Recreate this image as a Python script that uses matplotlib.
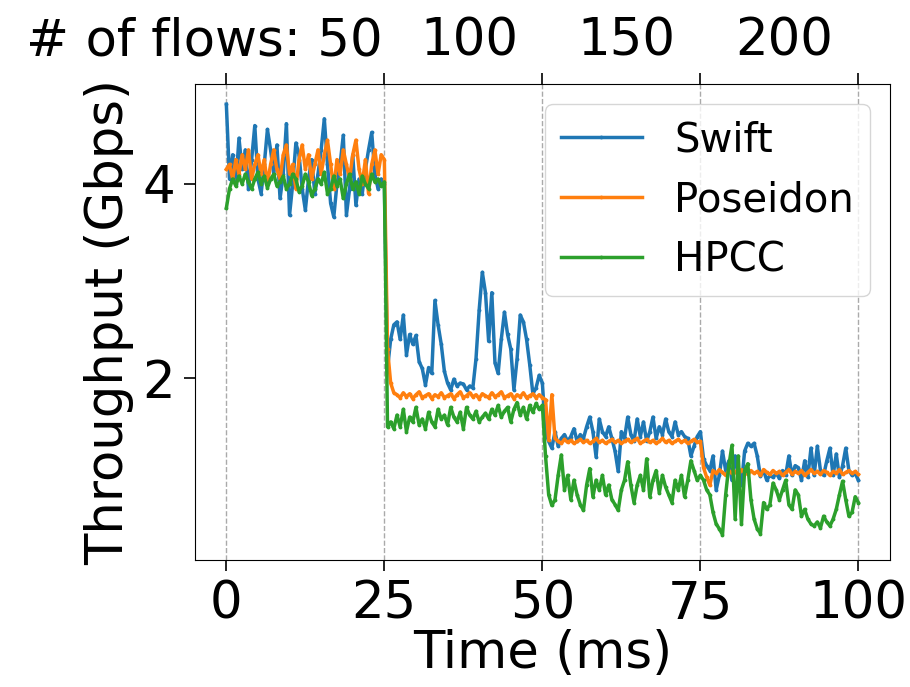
import numpy as np
import matplotlib.pyplot as plt

# time axis: one sample every 0.5 ms
t = np.arange(0, 100.5, 0.5)

# Swift throughput (Gbps), one list per 25 ms phase
swift_1 = [4.82, 4.05, 4.30, 4.00, 4.47, 4.15, 4.35, 3.95, 4.25, 4.60,
           4.05, 3.90, 4.20, 4.56, 4.35, 4.10, 4.40, 3.85, 4.10, 4.62,
           3.68, 4.00, 4.42, 4.30, 3.95, 3.73, 4.05, 4.25, 3.90, 4.10,
           4.35, 4.67, 4.20, 3.80, 3.66, 4.00, 4.20, 4.50, 3.68, 3.95,
           4.30, 3.78, 4.05, 3.90, 4.15, 4.35, 4.53, 4.10, 3.95, 4.05,
           4.00]
swift_2 = [2.10, 2.40, 2.55, 2.58, 2.40, 2.65, 2.24, 2.45, 2.35, 2.44,
           2.17, 2.10, 1.93, 2.11, 2.05, 2.80, 2.55, 2.35, 2.07, 1.95,
           1.88, 1.99, 1.92, 1.95, 1.94, 1.88, 1.92, 1.90, 2.20, 2.70,
           3.09, 2.88, 2.38, 2.88, 2.16, 2.05, 2.40, 2.68, 2.45, 2.30,
           1.88, 2.20, 2.65, 2.58, 2.40, 2.14, 1.84, 1.90, 2.03, 1.95]
swift_3 = [1.45, 1.35, 1.28, 1.45, 1.30, 1.38, 1.42, 1.35, 1.40, 1.48,
           1.35, 1.42, 1.38, 1.50, 1.60, 1.45, 1.19, 1.58, 1.45, 1.40,
           1.50, 1.38, 1.25, 1.04, 1.45, 1.38, 1.60, 1.42, 1.35, 1.58,
           1.40, 1.55, 1.35, 1.45, 1.60, 1.38, 1.50, 1.42, 1.58, 1.45,
           1.40, 1.55, 1.42, 1.45, 1.40, 1.38, 1.20, 1.30, 1.40, 1.45]
swift_4 = [1.17, 1.10, 1.05, 1.20, 0.85, 1.00, 1.25, 1.05, 1.15, 0.95,
           1.20, 1.00, 0.90, 1.25, 1.33, 1.30, 1.33, 1.20, 0.99, 1.05,
           0.95, 1.00, 0.98, 1.02, 0.97, 1.05, 1.00, 1.20, 1.00, 1.10,
           1.08, 0.95, 1.15, 0.98, 1.28, 1.00, 1.30, 1.05, 1.00, 1.15,
           1.28, 1.00, 1.22, 0.98, 1.10, 1.28, 1.05, 1.00, 1.02, 0.95]

# Poseidon
poseidon_1 = [4.15, 4.20, 4.05, 4.25, 4.10, 4.30, 4.15, 4.35, 4.05, 4.20,
              4.30, 4.10, 4.25, 4.00, 4.20, 4.35, 4.15, 4.05, 4.30, 4.40,
              4.10, 4.20, 3.95, 4.25, 4.40, 4.15, 4.30, 4.05, 4.20, 4.35,
              4.10, 4.30, 4.45, 4.20, 3.95, 4.25, 4.10, 4.35, 4.20, 4.05,
              4.30, 4.45, 4.15, 4.00, 4.25, 3.90, 4.20, 4.35, 4.10, 4.30,
              4.25]
poseidon_2 = [2.30, 1.95, 1.85, 1.83, 1.80, 1.85, 1.81, 1.84, 1.79, 1.83,
              1.86, 1.80, 1.82, 1.84, 1.79, 1.83, 1.81, 1.85, 1.80, 1.82,
              1.84, 1.79, 1.83, 1.86, 1.80, 1.82, 1.85, 1.81, 1.83, 1.79,
              1.84, 1.82, 1.80, 1.85, 1.81, 1.83, 1.86, 1.80, 1.82, 1.84,
              1.79, 1.83, 1.81, 1.85, 1.80, 1.82, 1.84, 1.80, 1.83, 1.80]
poseidon_3 = [1.78, 1.36, 1.83, 1.38, 1.35, 1.33, 1.37, 1.34, 1.36, 1.33,
              1.35, 1.37, 1.34, 1.36, 1.33, 1.35, 1.38, 1.34, 1.36, 1.33,
              1.35, 1.37, 1.34, 1.36, 1.33, 1.35, 1.37, 1.34, 1.36, 1.38,
              1.33, 1.35, 1.37, 1.34, 1.36, 1.33, 1.35, 1.38, 1.34, 1.36,
              1.33, 1.35, 1.37, 1.34, 1.36, 1.33, 1.35, 1.37, 1.34, 1.35]
poseidon_4 = [1.08, 0.98, 0.90, 1.05, 1.02, 1.06, 1.03, 1.00, 1.05, 1.02,
              1.04, 1.00, 1.06, 1.03, 1.01, 1.05, 1.02, 1.04, 1.00, 1.06,
              1.03, 1.01, 1.05, 1.02, 1.04, 1.00, 1.03, 1.06, 1.01, 1.04,
              1.02, 1.05, 1.00, 1.03, 1.06, 1.02, 1.04, 1.01, 1.05, 1.03,
              1.00, 1.04, 1.02, 1.06, 1.01, 1.03, 1.05, 1.02, 1.04, 1.01]

# HPCC
hpcc_1 = [3.75, 3.95, 4.05, 3.98, 4.08, 4.00, 4.10, 4.02, 3.95, 4.05,
          4.12, 4.00, 4.08, 3.96, 4.05, 4.10, 3.98, 4.02, 4.08, 3.95,
          4.00, 4.10, 4.05, 3.92, 3.98, 4.10, 4.02, 3.88, 3.95, 4.05,
          4.00, 4.12, 3.90, 3.95, 4.08, 3.98, 4.05, 3.85, 4.00, 4.10,
          3.95, 4.02, 3.90, 4.08, 4.00, 3.95, 4.10, 4.02, 4.05, 3.98,
          4.02]
hpcc_2 = [1.50, 1.55, 1.48, 1.62, 1.50, 1.68, 1.45, 1.60, 1.55, 1.70,
          1.52, 1.58, 1.48, 1.65, 1.55, 1.50, 1.68, 1.58, 1.62, 1.52,
          1.70, 1.60, 1.55, 1.65, 1.48, 1.70, 1.62, 1.58, 1.66, 1.55,
          1.60, 1.64, 1.58, 1.68, 1.62, 1.72, 1.60, 1.66, 1.70, 1.55,
          1.68, 1.75, 1.62, 1.70, 1.58, 1.72, 1.65, 1.74, 1.68, 1.72]
hpcc_3 = [1.20, 0.80, 0.69, 0.75, 1.00, 1.21, 0.85, 1.00, 0.75, 0.95,
          0.80, 0.70, 0.64, 0.90, 1.07, 0.78, 0.95, 0.85, 1.00, 0.80,
          0.90, 0.75, 0.70, 0.64, 0.85, 0.95, 1.14, 0.90, 0.72, 0.90,
          1.00, 0.85, 1.17, 0.78, 0.95, 1.05, 0.82, 1.00, 0.88, 0.80,
          0.72, 0.95, 0.85, 1.00, 0.78, 0.95, 1.15, 1.05, 0.95, 1.00]
hpcc_4 = [0.95, 0.85, 0.80, 0.62, 0.50, 0.45, 0.39, 0.80, 1.10, 1.31,
          0.55, 1.20, 0.50, 1.05, 1.12, 0.75, 0.55, 0.45, 0.40, 0.72,
          0.65, 0.70, 0.92, 0.85, 0.75, 0.85, 0.95, 0.70, 0.65, 0.85,
          0.80, 0.58, 0.65, 0.55, 0.50, 0.48, 0.52, 0.46, 0.58, 0.52,
          0.48, 0.55, 0.65, 0.80, 0.94, 0.75, 0.58, 0.62, 0.78, 0.72]

series = {
    'Swift': swift_1 + swift_2 + swift_3 + swift_4,
    'Poseidon': poseidon_1 + poseidon_2 + poseidon_3 + poseidon_4,
    'HPCC': hpcc_1 + hpcc_2 + hpcc_3 + hpcc_4,
}
colors = ['tab:blue', 'tab:orange', 'tab:green']

flow_pos = [38.4, 63.3, 88.3]
flow_labels = ['100', '150', '200']

fs = 37

fig = plt.figure(figsize=(9.1, 6.87), dpi=100)
ax = fig.add_axes([0.214, 0.185, 0.764, 0.693])

for (name, vals), c in zip(series.items(), colors):
    ax.plot(t, vals, color=c, lw=2.5, marker='.', markersize=3.5, label=name)

ax.set_xlim(-5, 105)
ax.set_ylim(0.13, 5.03)
ax.set_xticks([0, 25, 50, 75, 100])
ax.set_yticks([2, 4])
ax.grid(axis='x', linestyle='--', color='#aaaaaa', lw=1)
ax.tick_params(labelsize=fs, length=8, width=1.2, top=True, pad=6)
ax.set_xlabel('Time (ms)', fontsize=fs, labelpad=0)
ax.set_ylabel('Throughput (Gbps)', fontsize=fs, labelpad=6)

# number of flows in each phase, written above the axes
tr = ax.get_xaxis_transform()
ax.text(24.8, 1.06, '# of flows: 50', transform=tr, ha='right',
        va='baseline', fontsize=fs)
for x, lab in zip(flow_pos, flow_labels):
    ax.text(x, 1.06, lab, transform=tr, ha='center', va='baseline', fontsize=fs)

ax.legend(loc='upper right', fontsize=29)

fig.savefig('out.png', dpi=100)
